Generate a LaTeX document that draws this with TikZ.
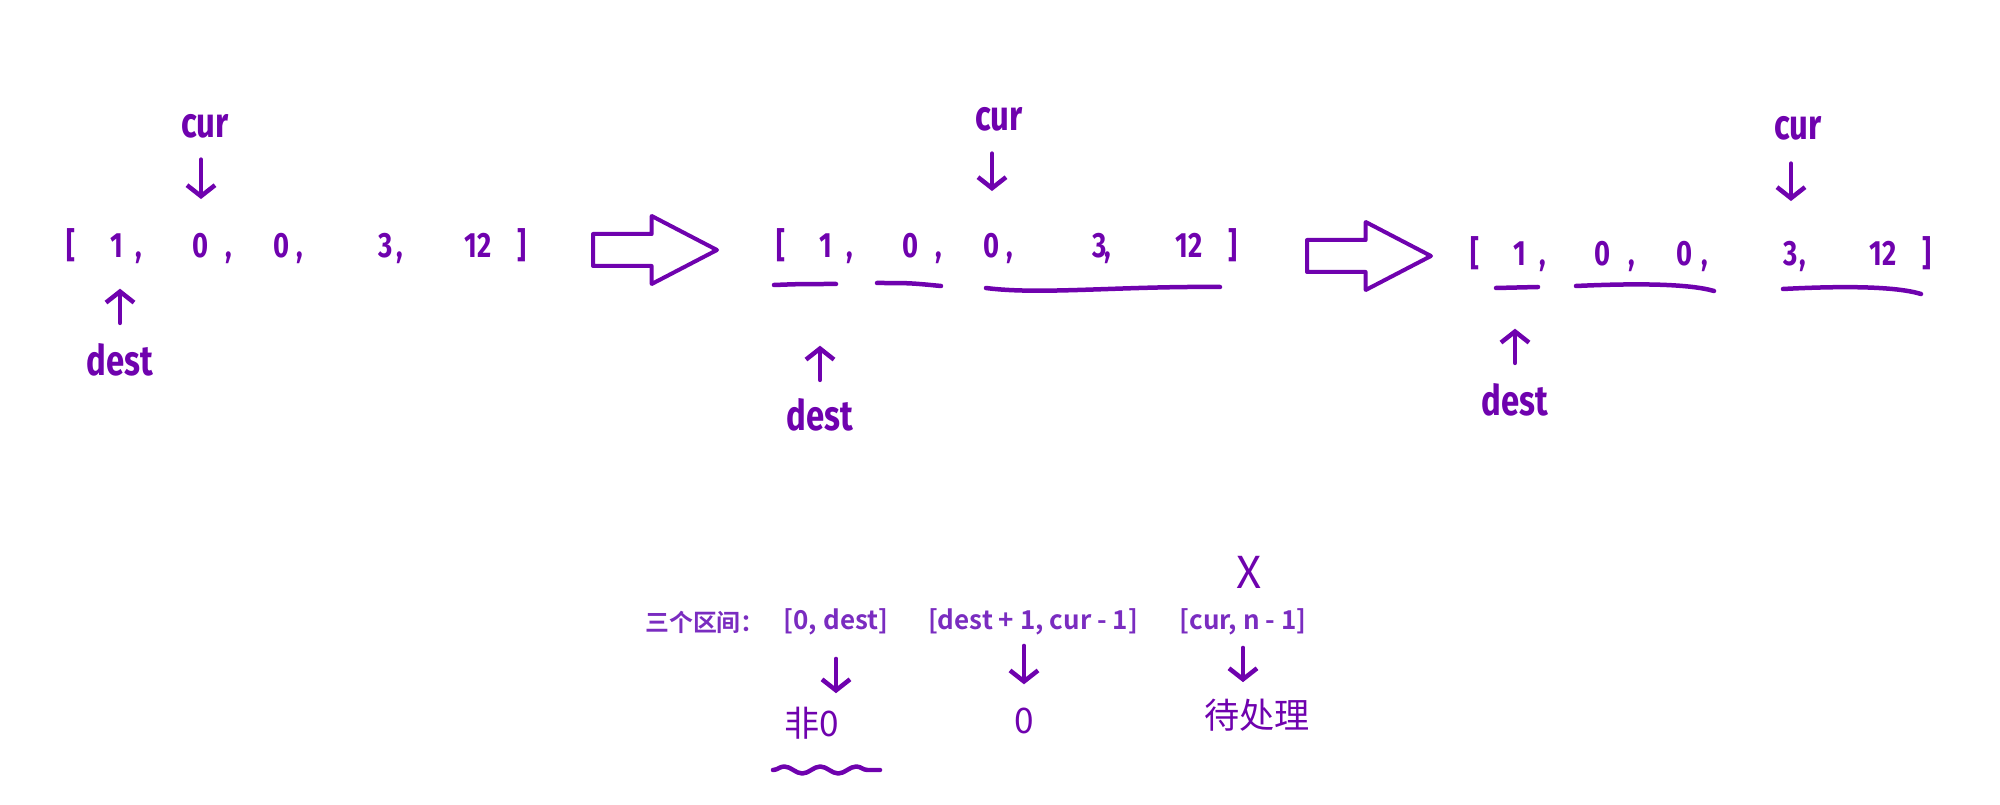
\documentclass[tikz,border=0pt]{standalone}
\usepackage{fontspec}
\newfontfamily\handfont{Fira Sans}[FakeStretch=0.78]
\newfontfamily\cjk{Noto Sans CJK SC}
\newfontfamily\cjkbf{Noto Sans CJK SC Bold}
\usetikzlibrary{positioning,arrows.meta,shapes.arrows,decorations.pathmorphing}
\definecolor{ink}{HTML}{6F02AE}
\definecolor{typed}{HTML}{7A2CC0}

\begin{document}
\begin{tikzpicture}[x=0.1mm, y=-0.1mm,
  every node/.style={inner sep=0pt, text=ink},
  num/.style={font=\handfont\bfseries\fontsize{10}{12}\selectfont, anchor=base},
  ptr/.style={font=\handfont\bfseries\fontsize{12}{14}\selectfont},
  rng/.style={text=typed, font=\cjkbf\fontsize{7.4}{9}\selectfont},
  note/.style={font=\cjk\fontsize{10}{12}\selectfont},
  hand/.style={draw=ink, line width=0.45mm, line cap=round, line join=round},
  tip/.style={hand, -{Straight Barb[length=1.1mm, width=2.8mm]}},
  bigarrow/.style={single arrow, draw=ink, line width=0.4mm, line join=round,
    inner xsep=0pt, inner ysep=1.4mm, minimum height=12.4mm, minimum width=6.4mm,
    single arrow head extend=1.8mm, single arrow tip angle=55}]
\useasboundingbox (0,0) rectangle (2000,805);

% first array
\node[num] (lbA) at (71,258) {[};
\foreach \v/\x [count=\i] in {1/117, 0/201, 0/282, 3/386, 12/478}
  \node[num] (A\i) at (\x,258) {\v};
\foreach \x [count=\i] in {139, 229, 300, 400}
  \node[num] (kA\i) at (\x,258) {,};
\node[num] (rbA) at (522,258) {]};
\node[ptr] (curA) at (205,126) {cur};
\node[ptr] (destA) at (120,360) {dest};
\draw[tip, shorten <=2.1mm, shorten >=3.4mm] (A2.north |- curA.south) -- (A2.north);
\draw[tip, shorten <=2mm, shorten >=3mm] (destA.north) -- (destA.north |- A1.south);

\node[bigarrow, anchor=tail] (goA) at (591,250) {};

% second array
\node[num] (lbB) at (781,258) {[};
\foreach \v/\x [count=\i] in {1/826, 0/911, 0/992, 3/1100, 12/1189}
  \node[num] (B\i) at (\x,258) {\v};
\foreach \x [count=\i] in {850, 939, 1010, 1108}
  \node[num] (kB\i) at (\x,258) {,};
\node[num] (rbB) at (1233,258) {]};
\node[ptr] (curB) at (999,119) {cur};
\node[ptr] (destB) at (820,415) {dest};
\draw[tip, shorten <=2.2mm, shorten >=4.2mm] (B3.north |- curB.south) -- (B3.north);
\draw[tip, shorten <=1.8mm, shorten >=8.7mm] (destB.north) -- (destB.north |- B1.south);
\draw[hand] (774,285) .. controls (800,284) .. (836,284);
\draw[hand] (877,283) .. controls (910,283) .. (941,286);
\draw[hand] (986,288) .. controls (1040,295) and (1120,286) .. (1220,287);

\node[bigarrow, anchor=tail] (goB) at (1305,256) {};

% third array
\node[num] (lbC) at (1475,266) {[};
\foreach \v/\x [count=\i] in {1/1520, 0/1603, 0/1685, 3/1791, 12/1883}
  \node[num] (C\i) at (\x,266) {\v};
\foreach \x [count=\i] in {1543, 1632, 1705, 1803}
  \node[num] (kC\i) at (\x,266) {,};
\node[num] (rbC) at (1927,266) {]};
\node[ptr] (curC) at (1798,128) {cur};
\node[ptr] (destC) at (1515,400) {dest};
\draw[tip, shorten <=2.3mm, shorten >=4mm] (C4.north |- curC.south) -- (C4.north);
\draw[tip, shorten <=2mm, shorten >=6.2mm] (destC.north) -- (destC.north |- C1.south);
\draw[hand] (1496,288) -- (1538,287);
\draw[hand] (1576,286) .. controls (1640,283) and (1690,284) .. (1714,291);
\draw[hand] (1783,289) .. controls (1840,286) and (1895,286) .. (1921,294);

% the three ranges
\node[rng, font=\cjkbf\fontsize{6.8}{8}\selectfont] (lbl) at (705,622) {三个区间：};
\node[rng] (r1) at (836,622) {[0, dest]};
\node[rng] (r2) at (1033,622) {[dest + 1, cur - 1]};
\node[rng] (r3) at (1243,622) {[cur, n - 1]};
\node[note, font=\cjk\fontsize{12.5}{14}\selectfont] (cross) at (1249,572) {X};
\node[note] (v1) at (812,723) {非0};
\node[note] (v2) at (1024,721) {0};
\node[note] (v3) at (1257,715) {待处理};
\draw[tip, shorten <=2.3mm, shorten >=1.3mm] (r1.south) -- (r1.south |- v1.north);
\draw[tip, shorten <=1mm, shorten >=2.3mm] (v2.north |- r2.south) -- (v2.north);
\draw[tip, shorten <=1.2mm, shorten >=1.6mm] (r3.south) -- (r3.south |- v3.north);
\draw[hand, decorate, decoration={snake, segment length=3.6mm, amplitude=0.35mm}] (773,770) -- (880,770);
\end{tikzpicture}
\end{document}
